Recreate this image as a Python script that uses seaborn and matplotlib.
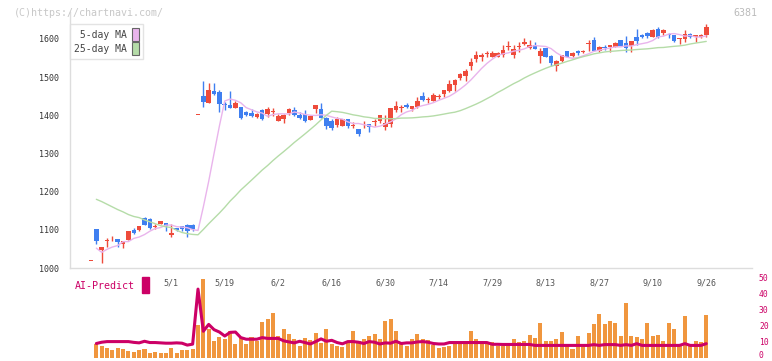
import numpy as np
import pandas as pd
import seaborn as sns
import matplotlib.pyplot as plt
from matplotlib.patches import Patch, Rectangle
from matplotlib.transforms import blended_transform_factory

# OHLC (daily candles, oldest first)
open_ = [1018, 1102, 1048, 1071, 1075, 1076, 1062, 1074, 1100, 1100,
         1132, 1129, 1108, 1115, 1118, 1087, 1104, 1110, 1113, 1113,
         1401, 1450, 1433, 1464, 1461, 1429, 1428, 1419, 1422, 1410,
         1407, 1395, 1414, 1403, 1409, 1386, 1391, 1405, 1414, 1402,
         1404, 1388, 1417, 1417, 1394, 1386, 1375, 1373, 1390, 1372,
         1364, 1376, 1377, 1383, 1385, 1370, 1377, 1414, 1419, 1428,
         1416, 1423, 1451, 1441, 1438, 1448, 1456, 1463, 1479, 1498,
         1503, 1528, 1548, 1552, 1560, 1553, 1554, 1559, 1580, 1559,
         1580, 1586, 1576, 1584, 1555, 1576, 1556, 1529, 1543, 1568,
         1555, 1569, 1566, 1587, 1597, 1569, 1579, 1578, 1580, 1597,
         1590, 1582, 1606, 1611, 1616, 1606, 1625, 1617, 1612, 1610,
         1601, 1601, 1613, 1604, 1604, 1610]
high = [1018, 1103, 1056, 1078, 1083, 1077, 1072, 1098, 1105, 1110,
        1133, 1130, 1115, 1124, 1119, 1116, 1106, 1111, 1114, 1114,
        1401, 1489, 1485, 1485, 1466, 1436, 1464, 1438, 1423, 1411,
        1417, 1406, 1416, 1423, 1420, 1403, 1403, 1419, 1423, 1408,
        1414, 1400, 1427, 1433, 1395, 1390, 1395, 1391, 1391, 1383,
        1365, 1385, 1378, 1391, 1402, 1401, 1419, 1438, 1427, 1431,
        1425, 1449, 1462, 1449, 1458, 1456, 1467, 1493, 1494, 1510,
        1521, 1549, 1568, 1563, 1568, 1568, 1565, 1584, 1594, 1584,
        1591, 1602, 1597, 1591, 1576, 1577, 1557, 1545, 1559, 1569,
        1566, 1571, 1571, 1597, 1604, 1582, 1584, 1584, 1591, 1598,
        1608, 1596, 1626, 1613, 1619, 1626, 1632, 1625, 1617, 1611,
        1603, 1624, 1615, 1611, 1612, 1640]
low = [1018, 1063, 1014, 1056, 1070, 1056, 1053, 1073, 1090, 1096,
       1112, 1102, 1102, 1114, 1096, 1082, 1096, 1096, 1082, 1098,
       1401, 1421, 1431, 1452, 1410, 1415, 1418, 1418, 1391, 1399,
       1395, 1392, 1388, 1396, 1398, 1384, 1381, 1401, 1397, 1390,
       1383, 1387, 1405, 1393, 1364, 1362, 1370, 1372, 1367, 1368,
       1346, 1366, 1357, 1372, 1379, 1362, 1370, 1410, 1410, 1418,
       1411, 1418, 1438, 1433, 1437, 1444, 1447, 1462, 1463, 1493,
       1491, 1519, 1541, 1543, 1554, 1552, 1553, 1554, 1570, 1550,
       1565, 1583, 1573, 1575, 1538, 1553, 1528, 1517, 1541, 1553,
       1553, 1558, 1562, 1569, 1568, 1565, 1570, 1567, 1579, 1581,
       1565, 1567, 1584, 1602, 1602, 1604, 1603, 1611, 1602, 1591,
       1587, 1593, 1603, 1593, 1603, 1604]
close = [1018, 1070, 1055, 1074, 1077, 1069, 1071, 1097, 1092, 1109,
         1113, 1106, 1110, 1123, 1111, 1092, 1100, 1102, 1097, 1101,
         1401, 1435, 1466, 1457, 1429, 1426, 1419, 1433, 1394, 1401,
         1398, 1404, 1390, 1417, 1411, 1397, 1402, 1417, 1402, 1394,
         1386, 1399, 1427, 1394, 1373, 1367, 1390, 1390, 1372, 1374,
         1351, 1378, 1370, 1385, 1401, 1381, 1418, 1424, 1421, 1421,
         1424, 1438, 1440, 1443, 1452, 1450, 1466, 1482, 1493, 1507,
         1515, 1541, 1558, 1559, 1562, 1563, 1563, 1571, 1582, 1573,
         1582, 1593, 1584, 1575, 1568, 1554, 1538, 1543, 1558, 1554,
         1563, 1563, 1568, 1590, 1569, 1578, 1577, 1583, 1590, 1582,
         1576, 1595, 1596, 1604, 1609, 1624, 1604, 1624, 1610, 1596,
         1603, 1613, 1604, 1610, 1611, 1631]

# volume (relative units) and AI-Predict score, first day has none
volume = [np.nan, 14, 12, 10, 8, 10, 9, 7, 5.3, 7.3,
          9, 4.7, 6, 5, 5, 10, 5, 8, 7.3, 9,
          33, 79, 29, 17, 21, 19, 27, 14, 21, 14,
          21, 17, 36, 39, 45, 22, 29, 24, 18.7, 12,
          19.7, 18, 25, 15, 29, 14, 12, 11, 16.7, 27,
          16.3, 19, 22, 24, 19, 37, 39, 27, 15, 11.3,
          19, 24, 19, 18, 13, 10, 11, 12, 14, 14,
          17, 27, 19, 15, 15, 16, 12, 12, 12, 19,
          16, 17, 23, 20, 35, 17, 17, 19, 26, 12,
          9, 22, 14, 25, 34, 44, 34, 37, 35, 22,
          55, 22, 21, 19, 35, 22, 23, 17, 35, 29,
          12, 42, 12, 17, 16, 43]
ai_predict = [np.nan, 8.8, 9.6, 10, 10, 10, 10, 10, 9.5, 9.2,
              10.2, 9.4, 9.4, 9.2, 9, 9, 9.2, 9, 7.8, 8.4,
              43, 16.5, 20.8, 17.5, 16, 13.5, 15.8, 16, 12.5, 11.5,
              11.5, 11.5, 12.5, 12, 12, 12, 10.5, 9.8, 9.2, 10.2,
              9.4, 8.5, 10, 11.7, 10.2, 10.8, 9.4, 8.6, 10, 10,
              9.6, 8.8, 10, 9.6, 8.5, 9.2, 9, 10.2, 8.8, 9.2,
              9.2, 9.8, 10, 9.6, 8.8, 8.5, 8.5, 9.4, 9.4, 9.4,
              9.4, 9.4, 9.4, 9.4, 9.4, 8.3, 8.3, 8.2, 8.2, 8.2,
              8.2, 8.2, 8.2, 7.6, 7.6, 7.6, 7.6, 7.6, 7.6, 7.6,
              7.6, 7.6, 7.6, 7.6, 8.1, 7.6, 8.1, 8.1, 8.1, 7.6,
              8.1, 7.6, 8.7, 7.6, 7.6, 7.6, 7.6, 7.6, 7.6, 7.6,
              7.6, 8.7, 7.6, 7.6, 7.6, 8.7]

# moving averages before enough visible history exists
ma5_head = [1052, 1041, 1049, 1055]
ma25_head = [1180, 1174, 1167, 1160, 1153, 1147, 1140, 1135, 1132, 1126,
             1121, 1116, 1111, 1108, 1106, 1099, 1093, 1090, 1088, 1087,
             1101, 1116, 1130, 1144]

date_labels = ["5/1", "5/19", "6/2", "6/16", "6/30", "7/14",
               "7/29", "8/13", "8/27", "9/10", "9/26"]
date_pos = [15, 25, 35, 45, 55, 65, 75, 85, 95, 105, 115]

RED = "#ee4b3b"
BLUE = "#3f7ff0"
PINK = "#e9b4ec"
GREEN = "#b5dca8"
ORANGE = "#f0963e"
MAGENTA = "#cc0066"
GRID = "#dddddd"

df = pd.DataFrame({"open": open_, "high": high, "low": low, "close": close,
                   "volume": volume, "ai": ai_predict})
df["idx"] = np.arange(len(df))
df["ma5"] = df["close"].rolling(5).mean().shift(1)
df.loc[1:4, "ma5"] = ma5_head
df["ma25"] = df["close"].rolling(25).mean().shift(1)
df.loc[1:24, "ma25"] = ma25_head

sns.set_style("white")
plt.rcParams["font.family"] = ["DejaVu Sans Mono"]

W, H = 772, 361
fig = plt.figure(figsize=(W / 100, H / 100), dpi=100)
fig.patch.set_facecolor("white")

# pixel layout of the source chart
px_day = 5.35
x0 = 91
xlim = ((70 - x0) / px_day, (752 - x0) / px_day)
ax = fig.add_axes([70 / W, 1 - 268 / H, 682 / W, (268 - 12) / H])
ax.set_xlim(xlim)
ax.set_ylim(1000, 1000 + 256 * 2.62)

# candles
up = df["close"] >= df["open"]
cols = np.where(up, RED, BLUE)
body_lo = df[["open", "close"]].min(axis=1)
body_h = (df["close"] - df["open"]).abs().clip(lower=2)
ax.vlines(df["idx"], df["low"], df["high"], colors=cols, lw=1, zorder=2)
ax.bar(df["idx"], body_h, bottom=body_lo, width=0.85, color=cols,
       linewidth=0, zorder=3)

sns.lineplot(data=df, x="idx", y="ma5", color=PINK, lw=1, ax=ax, zorder=4)
sns.lineplot(data=df, x="idx", y="ma25", color=GREEN, lw=1, ax=ax, zorder=4)

for s in ["top", "right"]:
    ax.spines[s].set_visible(False)
for s in ["left", "bottom"]:
    ax.spines[s].set_color(GRID)
    ax.spines[s].set_linewidth(1)
ax.set_yticks(range(1000, 1700, 100))
ax.set_yticklabels([str(v) for v in range(1000, 1700, 100)])
ax.tick_params(axis="y", length=5, width=1, color=GRID, labelsize=6,
               labelcolor="#333333", pad=3)
ax.set_xticks(np.linspace(xlim[0], xlim[1], 12)[1:])
ax.set_xticklabels([])
ax.tick_params(axis="x", direction="inout", length=5, width=1, color=GRID)
ax.set_xlabel("")
ax.set_ylabel("")

handles = [Patch(facecolor=PINK, edgecolor="#666666", lw=0.8),
           Patch(facecolor=GREEN, edgecolor="#666666", lw=0.8)]
leg = ax.legend(handles, [" 5-day MA", "25-day MA"], loc="upper left",
                bbox_to_anchor=(70 / W, 1 - 24 / H),
                bbox_transform=fig.transFigure, borderaxespad=0,
                markerfirst=False, fontsize=7, frameon=True, fancybox=False,
                edgecolor=GRID, handlelength=0.7, handleheight=1.6,
                handletextpad=0.5, labelspacing=0.15, borderpad=0.45)
leg.get_frame().set_linewidth(1)
for t in leg.get_texts():
    t.set_color("#444444")

# lower panel: volume + AI-Predict
ax_v = fig.add_axes([70 / W, 1 - 357.5 / H, 682 / W, 87.5 / H])
vol = df.dropna(subset=["volume"])
ax_v.bar(vol["idx"], vol["volume"], width=0.75, color=ORANGE, linewidth=0)
ax_v.set_xlim(xlim)
ax_v.set_ylim(0, 87.5)
ax_v.axis("off")

ax_ai = ax_v.twinx()
sns.lineplot(data=df, x="idx", y="ai", color=MAGENTA, lw=2.2, ax=ax_ai)
ax_ai.set_xlim(xlim)
ax_ai.set_ylim(0, 55)
ax_ai.set_yticks(range(10, 60, 10))
ax_ai.tick_params(axis="y", length=0, labelsize=5.8, labelcolor=MAGENTA, pad=5)
# the zero label sits on the figure edge, nudge it up a little
ax_ai.annotate("0", xy=(1, 0), xycoords=("axes fraction", "data"),
               xytext=(5, 1.5), textcoords="offset points", ha="left",
               va="center", fontsize=5.8, color=MAGENTA)
ax_ai.set_ylabel("")
ax_ai.set_xlabel("")
for s in ax_ai.spines.values():
    s.set_visible(False)
ax_ai.set_xticks([])

trans = blended_transform_factory(ax_v.transData, fig.transFigure)
for lab, p in zip(date_labels, date_pos):
    ax_v.text(p, 1 - 282.5 / H, lab, transform=trans, ha="center",
              va="center", fontsize=6, color="#555555")

fig.text(75 / W, 1 - 286 / H, "AI-Predict", color=MAGENTA, fontsize=7.2,
         va="center", ha="left")
fig.patches.append(Rectangle((142 / W, 1 - 293 / H), 7 / W, 16 / H,
                             transform=fig.transFigure, color=MAGENTA))

fig.text(14 / W, 1 - 12.5 / H, "(C)https://chartnavi.com/", color="#c8c8c8",
         fontsize=7.2, va="center", ha="left")
fig.text(757 / W, 1 - 12.5 / H, "6381", color="#bbbbbb", fontsize=7.2,
         va="center", ha="right")

fig.savefig("out.png", dpi=100)
plt.close()
